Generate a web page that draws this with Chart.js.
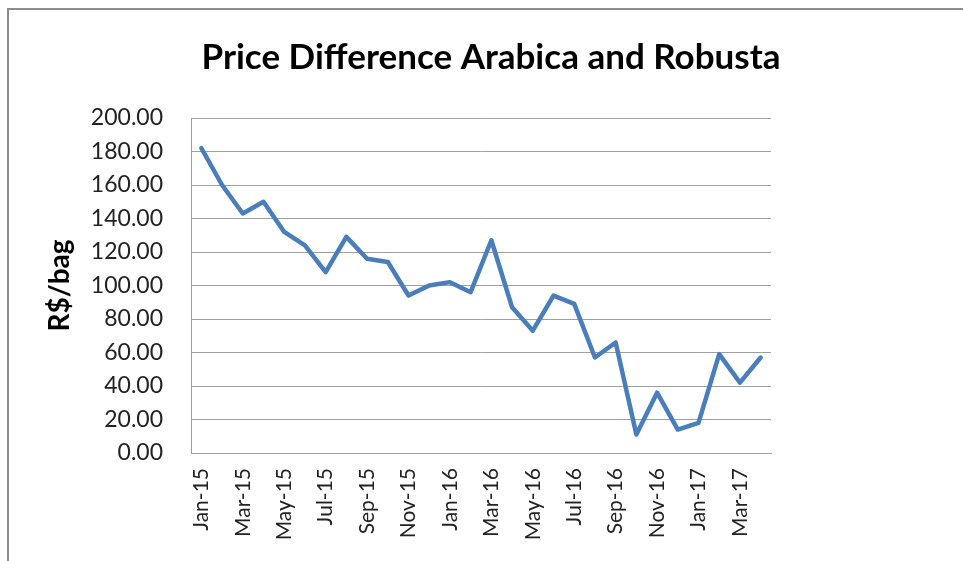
<!DOCTYPE html>
<html>
<head>
<meta charset="utf-8">
<script src="https://cdn.jsdelivr.net/npm/chart.js@4.4.1/dist/chart.umd.min.js"></script>
<style>
  html, body { margin: 0; padding: 0; background: #fff; overflow: hidden; }
  #wrap { position: relative; width: 963px; height: 561px; }
  #frame {
    position: absolute; left: 7px; top: 8px; width: 980px; height: 580px;
    border: 2px solid #8c8c8c; box-sizing: border-box; pointer-events: none;
  }
  canvas { position: absolute; left: 0; top: 0; }
</style>
</head>
<body>
<div id="wrap">
  <canvas id="chart" width="963" height="561"></canvas>
  <div id="frame"></div>
</div>
<script>
// ── Data ──────────────────────────────────────────
const MONTHS = [
  'Jan-15', 'Feb-15', 'Mar-15', 'Apr-15', 'May-15', 'Jun-15', 'Jul-15', 'Aug-15',
  'Sep-15', 'Oct-15', 'Nov-15', 'Dec-15', 'Jan-16', 'Feb-16', 'Mar-16', 'Apr-16',
  'May-16', 'Jun-16', 'Jul-16', 'Aug-16', 'Sep-16', 'Oct-16', 'Nov-16', 'Dec-16',
  'Jan-17', 'Feb-17', 'Mar-17', 'Apr-17'
];
const PRICE_DIFF = [
  182, 160, 143, 150, 132, 124, 108, 129,
  116, 114, 94, 100, 102, 96, 127, 87,
  73, 94, 89, 57, 66, 11, 36, 14,
  18, 59, 42, 57
];
const Y_MIN = 0, Y_MAX = 200, Y_STEP = 20;
const TITLE = 'Price Difference Arabica and Robusta';

const FONT = 'Lato, "Open Sans", sans-serif';
const GRID = '#a0a0a0';

// ── Title drawn over the whole frame (Excel centres it on the chart, not the plot) ──
const frameTitle = {
  id: 'frameTitle',
  afterDraw(chart) {
    const c = chart.ctx;
    c.save();
    c.font = `bold 35px ${FONT}`;
    c.fillStyle = '#000';
    c.textAlign = 'center';
    c.textBaseline = 'alphabetic';
    c.fillText(TITLE, 491, 69);
    c.restore();
  }
};

// ── Chart ─────────────────────────────────────────
const ctx = document.getElementById('chart').getContext('2d');
new Chart(ctx, {
  type: 'line',
  data: {
    labels: MONTHS,
    datasets: [{
      label: 'Price Difference',
      data: PRICE_DIFF,
      borderColor: '#4A7EBB',
      borderWidth: 4.5,
      borderJoinStyle: 'round',
      borderCapStyle: 'round',
      pointRadius: 0,
      tension: 0,
      fill: false
    }]
  },
  options: {
    responsive: false,
    animation: false,
    layout: { padding: { left: 0, right: 192, top: 118, bottom: 0 } },
    plugins: {
      legend: { display: false },
      tooltip: { enabled: false },
      title: { display: false }
    },
    scales: {
      x: {
        offset: true,
        grid: { display: false, drawTicks: false },
        border: { display: true, color: GRID, width: 1 },
        ticks: {
          autoSkip: false,
          minRotation: 90,
          maxRotation: 90,
          padding: 15,
          color: '#222',
          font: { family: FONT, size: 21 },
          callback: (v, i) => i % 2 === 0 ? MONTHS[i] : ''
        },
        afterFit: s => { s.height = 108; }
      },
      y: {
        min: Y_MIN,
        max: Y_MAX,
        grid: { color: GRID, lineWidth: 1, drawTicks: false },
        border: { display: true, color: GRID, width: 1 },
        ticks: {
          stepSize: Y_STEP,
          padding: 28,
          color: '#222',
          font: { family: FONT, size: 23 },
          callback: v => v.toFixed(2)
        },
        title: {
          display: true,
          text: 'R$/bag',
          color: '#000',
          font: { family: FONT, size: 28, weight: 'bold' },
          padding: { top: 43, bottom: 0 }
        },
        afterFit: s => { s.width = 191; }
      }
    }
  },
  plugins: [frameTitle]
});
</script>
</body>
</html>
